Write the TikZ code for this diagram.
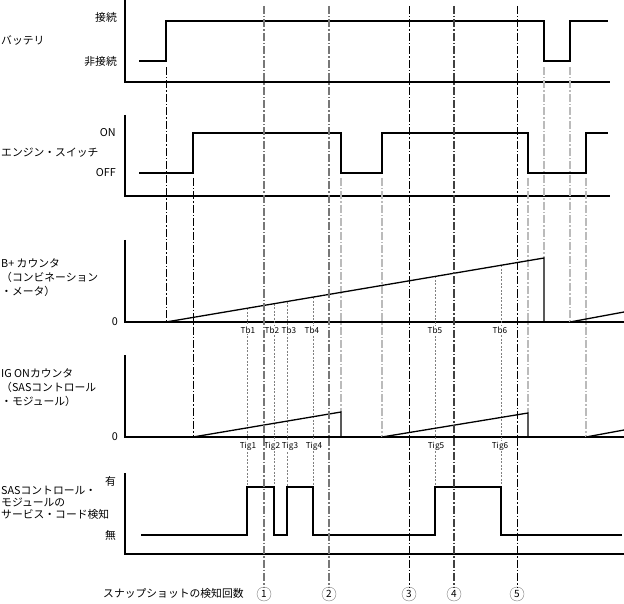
\documentclass[tikz,border=0pt]{standalone}
\usepackage{fontspec}
\setmainfont{Noto Sans CJK JP}
\usepackage{tikz}
\usetikzlibrary{positioning}
\definecolor{guidec}{HTML}{BBBBBB}
\definecolor{snapc}{HTML}{777777}
\definecolor{tickc}{HTML}{808080}

\begin{document}
\begin{tikzpicture}[x=1pt, y=-1pt, font=\fontsize{10.8}{14}\selectfont,
  axis/.style={line width=2.2pt},
  sig/.style={line width=1.3pt},
  dd/.style={dash pattern=on 8pt off 2pt on 1.5pt off 2pt},
  edgeb/.style={dd, line width=0.6pt},
  edgeg/.style={dd, guidec, line width=1.5pt},
  tickln/.style={tickc, line width=0.5pt, dash pattern=on 2pt off 1.5pt},
  snapln/.style={dd, line width=1.3pt},
  lvl/.style={anchor=east, inner sep=0pt},
  ttl/.style={anchor=west, align=left, inner sep=0pt},
  tlabel/.style={font=\fontsize{8.2}{9}\selectfont, fill=white, inner sep=0.5pt},
  snapno/.style={circle, draw=gray, minimum size=14pt, inner sep=0pt, font=\fontsize{10}{10}\selectfont}]
  \useasboundingbox (0,0) rectangle (624,604);

  \draw[axis] (125,0) -- (125,82) -- (610,82);
  \draw[axis] (125,115) -- (125,196) -- (610,196);
  \draw[axis] (125,240) -- (125,322) -- (624,322);
  \draw[axis] (125,355) -- (125,437) -- (624,437);
  \draw[axis] (125,473) -- (125,554) -- (624,554);

  \foreach \x/\a/\b in {166/67/322, 193/178/437}{
    \draw[edgeb] (\x,\a) -- (\x,\b);
  }
  \foreach \x/\a/\b in {341/178/412, 382/178/437, 528/178/413, 544/67/258, 570/67/322, 586/178/437}{
    \draw[edgeg] (\x,\a) -- (\x,\b);
  }
  \foreach \x in {247,274,287,313,435,501}{
    \draw[tickln] (\x,{322-(\x-166)/378*64}) -- (\x,487);
  }

  \draw[sig] (139,61) -- (166,61) -- (166,21) -- (544,21) -- (544,61) -- (570,61) -- (570,21) -- (608,21);
  \draw[sig] (139,173) -- (193,173) -- (193,133) -- (341,133) -- (341,173) -- (382,173) -- (382,133) -- (528,133) -- (528,173) -- (586,173) -- (586,133) -- (608,133);
  \draw[sig] (166,322) -- (544,258) -- (544,322);
  \draw[sig] (570,322) -- (624,312);
  \draw[sig] (193,437) -- (341,412) -- (341,437);
  \draw[sig] (382,437) -- (528,413) -- (528,437);
  \draw[sig] (586,437) -- (624,430);
  \draw[sig] (141,535) -- (247,535) -- (247,487) -- (274,487) -- (274,535) -- (287,535) -- (287,487) -- (313,487) -- (313,535) -- (435,535) -- (435,487) -- (501,487) -- (501,535) -- (622,535);

  \node[ttl] (bat) at (1,40) {バッテリ};
  \node[ttl] (eng) at (1,153) {エンジン・スイッチ};
  \node[ttl] (bcnt) at (1,278) {B+ カウンタ\\（コンビネーション\\・メータ）};
  \node[ttl] (igcnt) at (1,388) {IG ONカウンタ\\（SASコントロール\\・モジュール）};
  \node[ttl, font=\fontsize{10.8}{12}\selectfont] (sasd) at (1,503) {SASコントロール・\\モジュールの\\サービス・コード検知};

  \node[lvl] (bathi) at (117,17) {接続};
  \node[lvl] (batlo) at (117,61) {非接続};
  \node[lvl] (engon) at (116,133) {ON};
  \node[lvl] (engoff) at (116,173) {OFF};
  \node[lvl] (bzero) at (118,322) {0};
  \node[lvl] (izero) at (118,437) {0};
  \node[lvl] (sashi) at (116,481) {有};
  \node[lvl] (saslo) at (116,535) {無};

  \foreach \i/\x in {1/248,2/272,3/289,4/312,5/435,6/500}{
    \node[tlabel] (tb\i) at (\x,330) {Tb\i};
  }
  \foreach \i/\x in {1/248,2/272,3/290,4/314,5/436,6/500}{
    \node[tlabel] (tig\i) at (\x,446) {Tig\i};
  }

  \node[anchor=west, inner sep=0pt] (snap) at (103,593) {スナップショットの検知回数};
  \foreach \i/\x/\c/\w in {1/264/snapc/1.3, 2/329/snapc/1.3, 3/409/black/0.8, 4/454/darkgray/1.3, 5/517/black/0.7}{
    \coordinate (t\i) at (\x,6);
    \node[snapno] (s\i) at (\x,594) {\i};
    \draw[snapln, draw=\c, line width=\w pt] (t\i) -- (s\i);
  }
\end{tikzpicture}
\end{document}
